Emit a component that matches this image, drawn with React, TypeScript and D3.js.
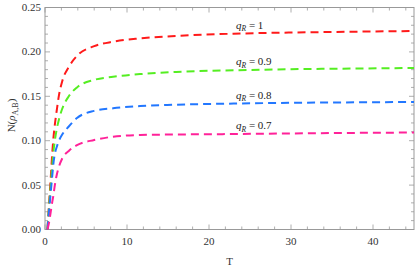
import { useEffect, useRef } from "react"
import * as d3 from "d3"

// T sample points
const tValues = [0.3, 0.5, 0.7, 0.9, 1.0, 1.2, 1.43, 1.7, 2.1, 2.9, 3.9, 6, 8.3, 11.6, 16, 23, 30, 38, 45]

const seriesQ1 = [0.0, 0.03, 0.058, 0.088, 0.1, 0.118, 0.134, 0.151, 0.167, 0.183, 0.1955, 0.2065, 0.2115, 0.2152, 0.218, 0.2205, 0.2218, 0.2228, 0.2235]
const seriesQ09 = [0.0, 0.026, 0.05, 0.074, 0.085, 0.1, 0.113, 0.124, 0.136, 0.15, 0.16, 0.1685, 0.172, 0.175, 0.1775, 0.1793, 0.1805, 0.1813, 0.1819]
const seriesQ08 = [0.0, 0.022, 0.042, 0.062, 0.072, 0.085, 0.093, 0.1, 0.107, 0.116, 0.1255, 0.1336, 0.1365, 0.139, 0.1405, 0.1418, 0.1427, 0.1432, 0.1436]
const seriesQ07 = [0.0, 0.008, 0.02, 0.032, 0.037, 0.05, 0.0614, 0.0707, 0.08, 0.0885, 0.095, 0.1008, 0.1045, 0.1064, 0.107, 0.1075, 0.1082, 0.1088, 0.1092]

const seriesLabels = ["1", "0.9", "0.8", "0.7"]
const seriesColors = ["#ff1a1a", "#55ee22", "#2277ff", "#ff2299"]

const xTicks = [0, 10, 20, 30, 40]
const yTicks = [0, 0.05, 0.1, 0.15, 0.2, 0.25]

const App = () => {
  const svgRef = useRef<SVGSVGElement | null>(null)

  useEffect(() => {
    if (!svgRef.current) return
    const svg = d3.select(svgRef.current)
    svg.selectAll("*").remove()

    const width = 415
    const height = 268
    const margin = { top: 7.5, right: 1, bottom: 38.5, left: 45 }
    const innerWidth = width - margin.left - margin.right
    const innerHeight = height - margin.top - margin.bottom

    const x = d3.scaleLinear().domain([0, 45]).range([0, innerWidth])
    const y = d3.scaleLinear().domain([0, 0.25]).range([innerHeight, 0])

    const g = svg.append("g").attr("transform", `translate(${margin.left},${margin.top})`)

    const frameColor = "#999"
    const textColor = "#333"
    const font = "'Liberation Serif', 'Times New Roman', serif"

    // Frame
    g.append("rect")
      .attr("width", innerWidth)
      .attr("height", innerHeight)
      .attr("fill", "none")
      .attr("stroke", frameColor)
      .attr("stroke-width", 1)

    // Ticks on all four sides, pointing inward
    const xMinor = d3.range(0, 45, 2)
    const yMinor = d3.range(0, 0.2501, 0.01)
    const tickGroup = g.append("g").attr("stroke", frameColor).attr("stroke-width", 0.8)

    xMinor.forEach((t) => {
      const len = xTicks.includes(t) ? 5 : 3
      tickGroup.append("line").attr("x1", x(t)).attr("x2", x(t)).attr("y1", innerHeight).attr("y2", innerHeight - len)
      tickGroup.append("line").attr("x1", x(t)).attr("x2", x(t)).attr("y1", 0).attr("y2", len)
    })
    yMinor.forEach((v) => {
      const major = yTicks.some((m) => Math.abs(m - v) < 1e-6)
      const len = major ? 5 : 3
      tickGroup.append("line").attr("x1", 0).attr("x2", len).attr("y1", y(v)).attr("y2", y(v))
      tickGroup.append("line").attr("x1", innerWidth).attr("x2", innerWidth - len).attr("y1", y(v)).attr("y2", y(v))
    })

    // Tick labels
    g.selectAll(".xlabel")
      .data(xTicks)
      .join("text")
      .attr("x", (d) => x(d))
      .attr("y", innerHeight + 15.5)
      .attr("text-anchor", "middle")
      .attr("fill", textColor)
      .style("font-family", font)
      .style("font-size", "11px")
      .text((d) => d)

    g.selectAll(".ylabel")
      .data(yTicks)
      .join("text")
      .attr("x", -4)
      .attr("y", (d) => y(d) + 3.5)
      .attr("text-anchor", "end")
      .attr("fill", textColor)
      .style("font-family", font)
      .style("font-size", "11px")
      .text((d) => d3.format(".2f")(d))

    // Axis titles
    svg.append("text")
      .attr("x", margin.left + x(22.5))
      .attr("y", 265)
      .attr("text-anchor", "middle")
      .attr("fill", textColor)
      .style("font-family", font)
      .style("font-size", "11px")
      .text("T")

    const yTitle = svg.append("text")
      .attr("transform", `translate(15, ${margin.top + innerHeight / 2 - 3}) rotate(-90)`)
      .attr("text-anchor", "middle")
      .attr("fill", textColor)
      .style("font-family", font)
      .style("font-size", "11px")
    yTitle.append("tspan").text("N(")
    yTitle.append("tspan").style("font-style", "italic").text("ρ")
    yTitle.append("tspan").attr("dy", 3).style("font-size", "8px").text("A,B")
    yTitle.append("tspan").attr("dy", -3).text(")")

    // Curves
    const allSeries = [seriesQ1, seriesQ09, seriesQ08, seriesQ07]
    const line = d3
      .line<number>()
      .x((_, i) => x(tValues[i]))
      .y((d) => y(d))
      .curve(d3.curveMonotoneX)

    allSeries.forEach((values, i) => {
      g.append("path")
        .datum(values)
        .attr("fill", "none")
        .attr("stroke", seriesColors[i])
        .attr("stroke-width", 2)
        .attr("stroke-dasharray", "8,5")
        .attr("d", line)
    })

    // Curve labels
    allSeries.forEach((values, i) => {
      const label = g.append("text")
        .attr("x", x(23.3))
        .attr("y", y(values[15]) - 5)
        .attr("fill", "#222")
        .style("font-family", font)
        .style("font-size", "11px")
      label.append("tspan").style("font-style", "italic").text("q")
      label.append("tspan").attr("dy", 2.5).style("font-style", "italic").style("font-size", "7.5px").text("R")
      label.append("tspan").attr("dy", -2.5).text(` = ${seriesLabels[i]}`)
    })
  }, [])

  return (
    <div style={{ position: "absolute", left: 0, top: 0 }}>
      <svg ref={svgRef} width={415} height={268} style={{ display: "block", background: "#fff" }} />
    </div>
  )
}

export default App
